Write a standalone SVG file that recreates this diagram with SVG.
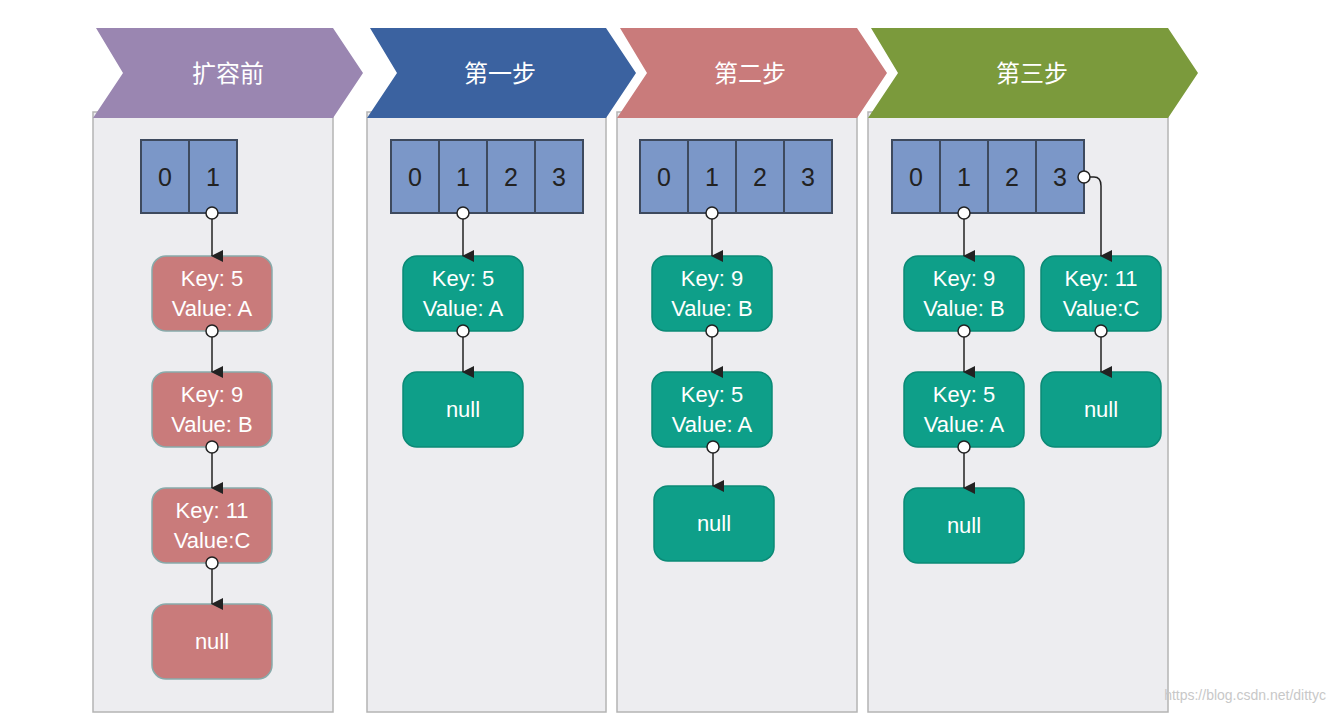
<svg xmlns="http://www.w3.org/2000/svg" width="1338" height="714" viewBox="0 0 1338 714">
<defs>
<marker id="ar" markerWidth="12" markerHeight="12" refX="6" refY="11" orient="auto" markerUnits="userSpaceOnUse" viewBox="0 0 12 12"><path d="M0,0 L12,0 L6,12 Z" fill="#222"/></marker>
<style>
.panel{fill:#ededf0;stroke:#b4b4b4;stroke-width:1.5}
.hd{font-family:"Noto Sans CJK SC",sans-serif;font-size:24px;fill:#fff;text-anchor:middle}
.cell{fill:#7b97c8;stroke:#3e4a5e;stroke-width:2}
.ct{font-family:"Liberation Sans",Arial,sans-serif;font-size:25px;fill:#222;text-anchor:middle}
.rn{fill:#c97b7b;stroke:#8aa;stroke-width:1.5}
.gn{fill:#0e9f89;stroke:#0b8a76;stroke-width:1.5}
.nt{font-family:"Liberation Sans",Arial,sans-serif;font-size:22px;fill:#fff;text-anchor:middle}
.c{fill:#fff;stroke:#222;stroke-width:1.5}
.l{stroke:#222;stroke-width:1.5;fill:none;marker-end:url(#ar)}
</style>
</defs>
<rect width="1338" height="714" fill="#fff"/>
<g id="col1">
<rect class="panel" x="93" y="112" width="240" height="600"/>
<polygon points="96,28 333,28 363,73 333,118 93,118 123,73" fill="#9a86b1"/>
<text class="hd" x="228" y="82">扩容前</text>
</g>
<g id="col2">
<rect class="panel" x="367" y="112" width="239" height="600"/>
<polygon points="370,28 606,28 636,73 606,118 367,118 397,73" fill="#3b62a0"/>
<text class="hd" x="500" y="82">第一步</text>
</g>
<g id="col3">
<rect class="panel" x="617" y="112" width="240" height="600"/>
<polygon points="620,28 857,28 887,73 857,118 617,118 647,73" fill="#c97b7b"/>
<text class="hd" x="750" y="82">第二步</text>
</g>
<g id="col4">
<rect class="panel" x="868" y="112" width="300" height="600"/>
<polygon points="871,28 1168,28 1198,73 1168,118 868,118 898,73" fill="#7b9a3c"/>
<text class="hd" x="1032" y="82">第三步</text>
</g>
<g id="arr1">
<rect class="cell" x="141" y="140" width="48" height="73"/><rect class="cell" x="189" y="140" width="48" height="73"/>
<text class="ct" x="165" y="186">0</text><text class="ct" x="213" y="186">1</text>
</g>
<g id="arr2">
<rect class="cell" x="391" y="140" width="48" height="73"/><rect class="cell" x="439" y="140" width="48" height="73"/><rect class="cell" x="487" y="140" width="48" height="73"/><rect class="cell" x="535" y="140" width="48" height="73"/>
<text class="ct" x="415" y="186">0</text><text class="ct" x="463" y="186">1</text><text class="ct" x="511" y="186">2</text><text class="ct" x="559" y="186">3</text>
</g>
<g id="arr3">
<rect class="cell" x="640" y="140" width="48" height="73"/><rect class="cell" x="688" y="140" width="48" height="73"/><rect class="cell" x="736" y="140" width="48" height="73"/><rect class="cell" x="784" y="140" width="48" height="73"/>
<text class="ct" x="664" y="186">0</text><text class="ct" x="712" y="186">1</text><text class="ct" x="760" y="186">2</text><text class="ct" x="808" y="186">3</text>
</g>
<g id="arr4">
<rect class="cell" x="892" y="140" width="48" height="73"/><rect class="cell" x="940" y="140" width="48" height="73"/><rect class="cell" x="988" y="140" width="48" height="73"/><rect class="cell" x="1036" y="140" width="48" height="73"/>
<text class="ct" x="916" y="186">0</text><text class="ct" x="964" y="186">1</text><text class="ct" x="1012" y="186">2</text><text class="ct" x="1060" y="186">3</text>
</g>
<g id="n1a"><rect class="rn" x="152" y="256" width="120" height="75" rx="14"/><text class="nt" x="212" y="286">Key: 5</text><text class="nt" x="212" y="316">Value: A</text></g>
<g id="n1b"><rect class="rn" x="152" y="372" width="120" height="75" rx="14"/><text class="nt" x="212" y="402">Key: 9</text><text class="nt" x="212" y="432">Value: B</text></g>
<g id="n1c"><rect class="rn" x="152" y="488" width="120" height="75" rx="14"/><text class="nt" x="212" y="518">Key: 11</text><text class="nt" x="212" y="548">Value:C</text></g>
<g id="n1d"><rect class="rn" x="152" y="604" width="120" height="75" rx="14"/><text class="nt" x="212" y="649">null</text></g>
<g id="n2a"><rect class="gn" x="403" y="256" width="120" height="75" rx="14"/><text class="nt" x="463" y="286">Key: 5</text><text class="nt" x="463" y="316">Value: A</text></g>
<g id="n2b"><rect class="gn" x="403" y="372" width="120" height="75" rx="14"/><text class="nt" x="463" y="417">null</text></g>
<g id="n3a"><rect class="gn" x="652" y="256" width="120" height="75" rx="14"/><text class="nt" x="712" y="286">Key: 9</text><text class="nt" x="712" y="316">Value: B</text></g>
<g id="n3b"><rect class="gn" x="652" y="372" width="120" height="75" rx="14"/><text class="nt" x="712" y="402">Key: 5</text><text class="nt" x="712" y="432">Value: A</text></g>
<g id="n3c"><rect class="gn" x="654" y="486" width="120" height="75" rx="14"/><text class="nt" x="714" y="531">null</text></g>
<g id="n4a"><rect class="gn" x="904" y="256" width="120" height="75" rx="14"/><text class="nt" x="964" y="286">Key: 9</text><text class="nt" x="964" y="316">Value: B</text></g>
<g id="n4b"><rect class="gn" x="904" y="372" width="120" height="75" rx="14"/><text class="nt" x="964" y="402">Key: 5</text><text class="nt" x="964" y="432">Value: A</text></g>
<g id="n4c"><rect class="gn" x="904" y="488" width="120" height="75" rx="14"/><text class="nt" x="964" y="533">null</text></g>
<g id="n4d"><rect class="gn" x="1041" y="256" width="120" height="75" rx="14"/><text class="nt" x="1101" y="286">Key: 11</text><text class="nt" x="1101" y="316">Value:C</text></g>
<g id="n4e"><rect class="gn" x="1041" y="372" width="120" height="75" rx="14"/><text class="nt" x="1101" y="417">null</text></g>
<g id="connectors">
<path class="l" d="M212,219 V256"/><circle class="c" cx="212" cy="213" r="6"/>
<path class="l" d="M212,337 V372"/><circle class="c" cx="212" cy="331" r="6"/>
<path class="l" d="M212,453 V488"/><circle class="c" cx="212" cy="447" r="6"/>
<path class="l" d="M212,569 V604"/><circle class="c" cx="212" cy="563" r="6"/>
<path class="l" d="M463,219 V256"/><circle class="c" cx="463" cy="213" r="6"/>
<path class="l" d="M463,337 V372"/><circle class="c" cx="463" cy="331" r="6"/>
<path class="l" d="M712,219 V256"/><circle class="c" cx="712" cy="213" r="6"/>
<path class="l" d="M712,337 V372"/><circle class="c" cx="712" cy="331" r="6"/>
<path class="l" d="M713,453 V486"/><circle class="c" cx="713" cy="447" r="6"/>
<path class="l" d="M964,219 V256"/><circle class="c" cx="964" cy="213" r="6"/>
<path class="l" d="M964,337 V372"/><circle class="c" cx="964" cy="331" r="6"/>
<path class="l" d="M964,453 V488"/><circle class="c" cx="964" cy="447" r="6"/>
<path class="l" d="M1090,177 H1094 Q1101,177 1101,186 V256"/><circle class="c" cx="1084" cy="177" r="6"/>
<path class="l" d="M1101,337 V372"/><circle class="c" cx="1101" cy="331" r="6"/>
</g>
<text x="1326" y="700" font-family="Liberation Sans,Arial,sans-serif" font-size="14" fill="#c8c8c8" text-anchor="end">https://blog.csdn.net/dittyc</text>
</svg>
